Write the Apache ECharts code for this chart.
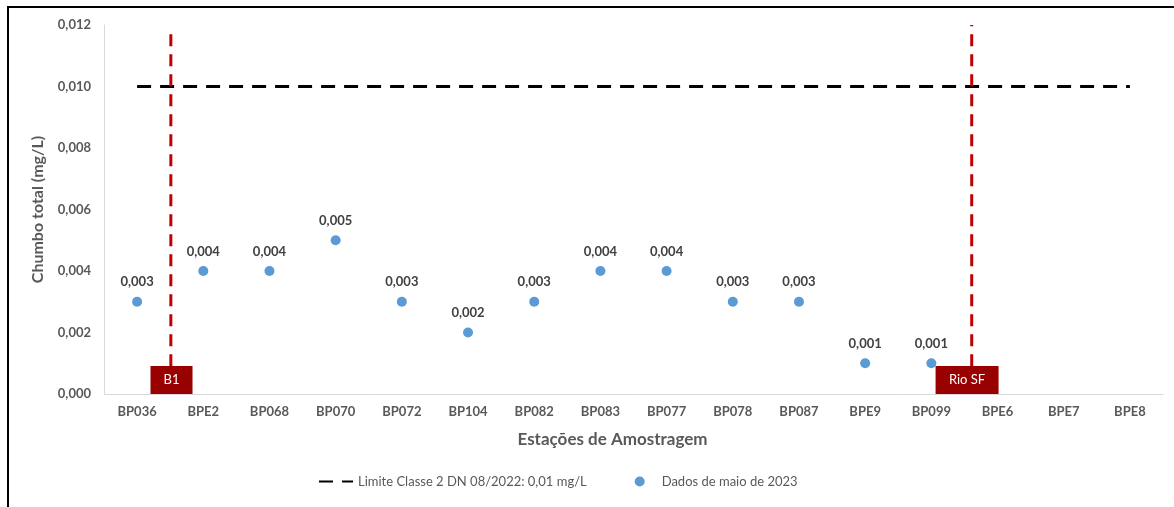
<!DOCTYPE html>
<html>
<head>
<meta charset="utf-8">
<script src="https://cdn.jsdelivr.net/npm/echarts@6/dist/echarts.min.js"></script>
<style>
html,body{margin:0;padding:0;background:#fff;}
#chart{width:1174px;height:507px;}
</style>
</head>
<body>
<div id="chart"></div>
<script>
// ---- data ----
const stations = ['BP036','BPE2','BP068','BP070','BP072','BP104','BP082','BP083','BP077','BP078','BP087','BPE9','BP099','BPE6','BPE7','BPE8'];
const leadMay2023 = [0.003,0.004,0.004,0.005,0.003,0.002,0.003,0.004,0.004,0.003,0.003,0.001,0.001,null,null,null];
const limitValue = 0.01;
const limitLine = stations.map(() => limitValue);
const yTicks = { min: 0, max: 0.012, interval: 0.002 };
// region boundaries, in category units along the x axis
const regionNames = ['B1', 'Rio SF'];
const regionLinePos = [1.01, 13.11];
const regionLineTop = [0.01177, 0.012];
const regionBoxPos = [1.02, 13.04];
const regionLineBottom = 0.0009;
const regionBoxCenter = 0.000455;

const seriesNames = ['Limite Classe 2 DN 08/2022: 0,01 mg/L', 'Dados de maio de 2023'];

const FONT = 'Lato';
const fmt = v => v.toFixed(3).replace('.', ',');

const chart = echarts.init(document.getElementById('chart'), null, {renderer: 'canvas'});

const redLineSeries = regionNames.map((n, i) => ({
  type: 'line',
  name: 'reg_' + n,
  xAxisIndex: 1,
  symbol: 'none',
  silent: true,
  z: 3,
  lineStyle: {color: '#C00000', width: 3, type: [12, 8]},
  data: [[regionLinePos[i], regionLineBottom], [regionLinePos[i], regionLineTop[i]]]
}));

const boxSeries = {
  type: 'scatter',
  name: 'regionBoxes',
  xAxisIndex: 1,
  symbol: 'rect',
  silent: true,
  z: 4,
  itemStyle: {color: '#990000', opacity: 1},
  label: {show: true, position: 'inside', color: '#fff', fontFamily: FONT, fontSize: 13,
          formatter: p => p.data.name},
  data: regionNames.map((n, i) => ({
    name: n,
    value: [regionBoxPos[i], regionBoxCenter],
    symbolSize: [n.length > 2 ? 63 : 42, 28]
  }))
};

chart.setOption({
  animation: false,
  backgroundColor: '#fff',
  textStyle: {fontFamily: FONT},
  graphic: [{
    type: 'rect', silent: true, z: 100,
    shape: {x: 8, y: 7, width: 1300, height: 700},
    style: {fill: 'none', stroke: '#000', lineWidth: 2}
  }],
  grid: {left: 104, right: 11, top: 25, bottom: 113},
  legend: {
    data: [
      {name: seriesNames[0], itemStyle: {opacity: 0}},
      {name: seriesNames[1], icon: 'circle', itemStyle: {color: '#5B9BD5', opacity: 1}}
    ],
    bottom: 14,
    left: 313,
    itemGap: 48,
    itemWidth: 34,
    itemHeight: 10,
    textStyle: {fontFamily: FONT, fontSize: 13, color: '#595959'}
  },
  xAxis: [{
    type: 'category',
    data: stations,
    boundaryGap: true,
    axisLine: {show: true, lineStyle: {color: '#D9D9D9', width: 1}},
    axisTick: {show: false},
    axisLabel: {color: '#595959', fontFamily: FONT, fontWeight: 'bold', fontSize: 13, margin: 11},
    name: 'Estações de Amostragem',
    nameLocation: 'middle',
    nameGap: 37,
    nameTextStyle: {color: '#595959', fontFamily: FONT, fontWeight: 'bold', fontSize: 17, padding: [0, 42, 0, 0]}
  }, {
    type: 'value',
    min: 0, max: stations.length,
    show: false
  }],
  yAxis: {
    type: 'value',
    min: yTicks.min, max: yTicks.max, interval: yTicks.interval,
    splitLine: {show: false},
    axisLine: {show: true, lineStyle: {color: '#D9D9D9', width: 1}},
    axisTick: {show: false},
    axisLabel: {color: '#595959', fontFamily: FONT, fontWeight: 'bold', fontSize: 13, margin: 13, formatter: fmt},
    name: 'Chumbo total (mg/L)',
    nameLocation: 'middle',
    nameGap: 58,
    nameTextStyle: {color: '#595959', fontFamily: FONT, fontWeight: 'bold', fontSize: 16}
  },
  series: [
    {
      type: 'line',
      name: seriesNames[0],
      data: limitLine,
      symbol: 'none',
      z: 2,
      lineStyle: {color: '#000', width: 3, type: [14, 9]},
      itemStyle: {color: '#000'}
    },
    {
      type: 'scatter',
      name: seriesNames[1],
      data: leadMay2023,
      symbol: 'circle',
      symbolSize: 10,
      z: 5,
      itemStyle: {color: '#5B9BD5', opacity: 1},
      label: {show: true, position: 'top', distance: 8, color: '#404040', fontFamily: FONT,
              fontWeight: 'bold', fontSize: 13, formatter: p => fmt(p.value)}
    },
    ...redLineSeries,
    boxSeries
  ]
});
</script>
</body>
</html>
